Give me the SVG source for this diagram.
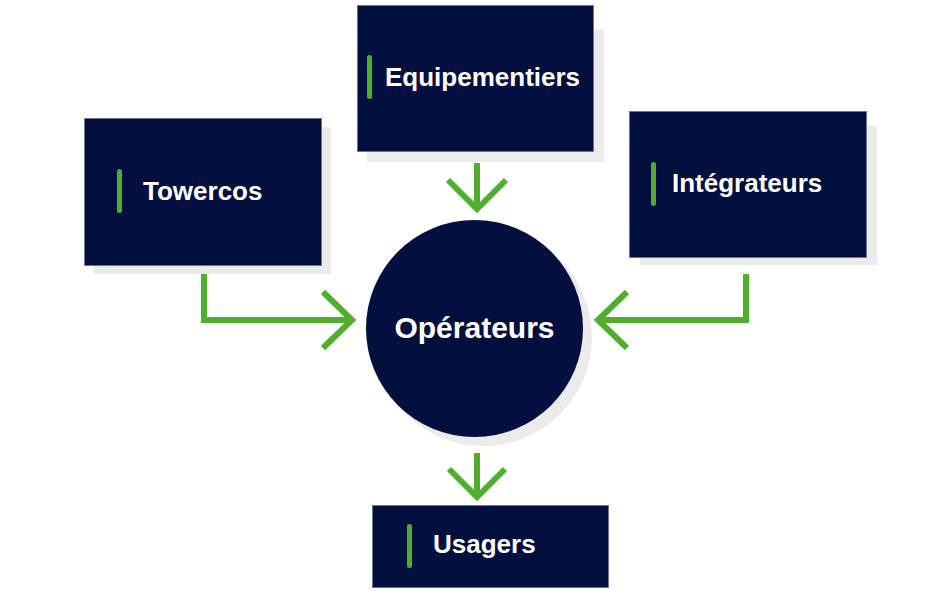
<svg xmlns="http://www.w3.org/2000/svg" width="950" height="600" viewBox="0 0 950 600">
<defs>
<style>
.box{fill:#030f3f;stroke:#6b7494;stroke-width:1}
.shadow{fill:#ebebeb}
.bar{fill:#4fae2c}
.lbl{font-family:"Liberation Sans",Arial,sans-serif;font-weight:bold;font-size:26px;fill:#ffffff}
.conn{fill:none;stroke:#4fae2c;stroke-width:6;stroke-linejoin:miter;stroke-linecap:butt}
</style>
</defs>
<rect width="950" height="600" fill="#ffffff"/>
<g id="towercos">
<rect class="shadow" x="94" y="127" width="237" height="147"/>
<rect class="box" x="84.5" y="118.5" width="237" height="147"/>
<rect class="bar" x="117" y="169" width="5" height="44" rx="2.5"/>
<text class="lbl" x="143" y="200">Towercos</text>
</g>
<g id="equipementiers">
<rect class="shadow" x="367" y="29" width="237" height="133"/>
<rect class="box" x="357.5" y="5.5" width="236" height="146"/>
<rect class="bar" x="367" y="55" width="5" height="44" rx="2.5"/>
<text class="lbl" x="385" y="86">Equipementiers</text>
</g>
<g id="integrateurs">
<rect class="shadow" x="640" y="126" width="237" height="139"/>
<rect class="box" x="629.5" y="111.5" width="237" height="146"/>
<rect class="bar" x="651" y="162" width="5" height="44" rx="2.5"/>
<text class="lbl" x="672" y="192">Intégrateurs</text>
</g>
<g id="operateurs">
<circle class="shadow" cx="483" cy="337" r="109"/>
<circle cx="474.5" cy="328.5" r="108.5" fill="#030f3f"/>
<text class="lbl" x="474.5" y="338" text-anchor="middle" style="font-size:30px">Opérateurs</text>
</g>
<g id="usagers">
<rect class="box" x="372.5" y="505.5" width="236" height="82"/>
<rect class="bar" x="407" y="524" width="5" height="44" rx="2.5"/>
<text class="lbl" x="433" y="553">Usagers</text>
</g>
<g id="connectors">
<path class="conn" d="M477 163 V210 M448 180 L477 209 L506 180"/>
<path class="conn" d="M204 274 V320 H353 M323 292 L352 320 L323 348"/>
<path class="conn" d="M746 274 V320 H597 M627 292 L598 320 L627 348"/>
<path class="conn" d="M477 453 V498 M449 469 L477 497 L505 469"/>
</g>
</svg>
